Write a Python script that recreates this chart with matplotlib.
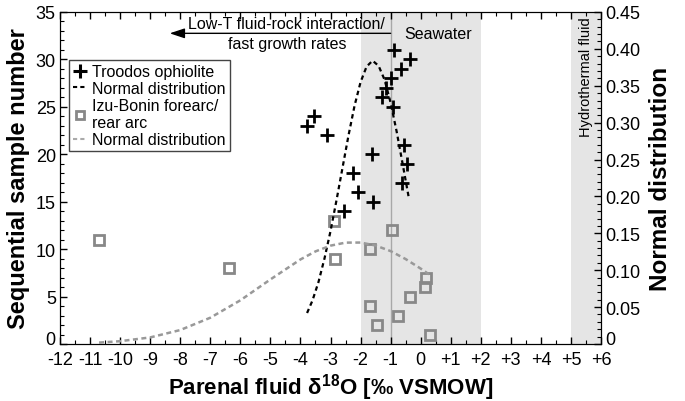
import matplotlib
matplotlib.use("Agg")
import matplotlib.pyplot as plt
import matplotlib.transforms as mtransforms
from matplotlib.lines import Line2D
from matplotlib.ticker import MultipleLocator

plt.rcParams['font.family'] = ['Liberation Sans', 'DejaVu Sans']
plt.rcParams['mathtext.fontset'] = 'custom'
plt.rcParams['mathtext.rm'] = 'Liberation Sans'
plt.rcParams['mathtext.bf'] = 'Liberation Sans:bold'

# Troodos ophiolite samples (sequential number vs fluid d18O)
troodos_seq = [14, 15, 16, 17, 18, 19, 20, 21, 22, 23, 24, 25, 26, 27, 28, 29, 30, 31]
troodos_d18o = [-2.56, -1.58, -2.08, -0.61, -2.26, -0.44, -1.61, -0.56, -3.11,
                -3.78, -3.56, -0.93, -1.28, -1.15, -1.0, -0.66, -0.37, -0.9]

# Izu-Bonin forearc / rear arc samples
izu_seq = [1, 2, 3, 4, 5, 6, 7, 8, 9, 10, 11, 12, 13]
izu_d18o = [0.31, -1.44, -0.76, -1.7, -0.36, 0.13, 0.17, -6.39, -2.86, -1.7,
            -10.69, -0.94, -2.89]

# normal distribution curves (right axis)
troodos_nd_x = [-3.78, -3.6, -3.4, -3.2, -3.0, -2.8, -2.6, -2.4, -2.2, -2.0,
                -1.8, -1.6, -1.4, -1.2, -1.0, -0.8, -0.6, -0.39]
troodos_nd_y = [0.042, 0.059, 0.084, 0.116, 0.153, 0.195, 0.239, 0.283, 0.323,
                0.355, 0.376, 0.384, 0.377, 0.358, 0.327, 0.288, 0.244, 0.197]
izu_nd_x = [-10.7, -10.0, -9.0, -8.0, -7.0, -6.0, -5.0, -4.0, -3.5, -3.0,
            -2.5, -2.0, -1.5, -1.0, -0.5, 0.0, 0.3]
izu_nd_y = [0.0019, 0.0038, 0.0089, 0.0189, 0.0356, 0.0592, 0.0875, 0.1146,
            0.1255, 0.1333, 0.1374, 0.1375, 0.1335, 0.1259, 0.1151, 0.1022, 0.0938]

xticks = list(range(-12, 7))
xticklabels = ['-12', '-11', '-10', '-9', '-8', '-7', '-6', '-5', '-4', '-3',
               '-2', '-1', '0', '+1', '+2', '+3', '+4', '+5', '+6']
yticks = [0, 5, 10, 15, 20, 25, 30, 35]
y2ticks = [0, 0.05, 0.10, 0.15, 0.20, 0.25, 0.30, 0.35, 0.40, 0.45]
y2ticklabels = ['0', '0.05', '0.10', '0.15', '0.20', '0.25', '0.30', '0.35', '0.40', '0.45']

fig = plt.figure(figsize=(6.85, 4.02), dpi=100)
ax = fig.add_axes([0.0876, 0.1418, 0.7898, 0.8259])
ax2 = ax.twinx()

# shaded fluid fields
ax.axvspan(-2, 2, color='#e5e5e5', lw=0, zorder=0)
ax.axvspan(5, 6, color='#e5e5e5', lw=0, zorder=0)
ax.axvline(-1, color='#a8a8a8', lw=1, zorder=0.5)

ax.plot(troodos_d18o, troodos_seq, ls='none', marker='+', color='k', ms=10, mew=2, zorder=3)
ax.plot(izu_d18o, izu_seq, ls='none', marker='s', mfc='none', mec='#888888', ms=6.5, mew=2, zorder=3)

ax2.plot(troodos_nd_x, troodos_nd_y, color='k', lw=1.6, ls=(0, (2, 1.6)))
ax2.plot(izu_nd_x, izu_nd_y, color='#999999', lw=1.8, ls=(0, (2, 1.4)))

ax.set_xlim(-12, 6)
ax.set_ylim(0, 35)
ax2.set_ylim(0, 0.45)

ax.set_xticks(xticks)
ax.set_xticklabels(xticklabels)
ax.xaxis.set_minor_locator(MultipleLocator(0.5))
ax.set_yticks(yticks)
ax.yaxis.set_minor_locator(MultipleLocator(1))
ax2.set_yticks(y2ticks)
ax2.set_yticklabels(y2ticklabels)
ax2.yaxis.set_minor_locator(MultipleLocator(0.01))

ax.tick_params(axis='x', which='both', direction='in', top=True, labelsize=13, pad=5)
ax.tick_params(axis='y', which='both', direction='in', right=False, labelsize=13, pad=3)
ax2.tick_params(axis='y', which='both', direction='in', labelsize=13, pad=3)
for a in (ax, ax2):
    a.tick_params(which='major', length=5, width=1)
    a.tick_params(which='minor', length=3, width=0.8)

# lift the "0" labels at the corners a little, as in the original
lift = mtransforms.ScaledTranslation(0, 5 / 72, fig.dpi_scale_trans)
for lab in (ax.get_yticklabels()[0], ax2.get_yticklabels()[0]):
    lab.set_transform(lab.get_transform() + lift)

ax.set_xlabel(r'Parenal fluid δ$^{\mathbf{18}}$O [‰ VSMOW]', fontsize=16, fontweight='bold', labelpad=2)
ax.set_ylabel('Sequential sample number', fontsize=17, fontweight='bold', labelpad=4)
ax2.set_ylabel('Normal distribution', fontsize=17.5, fontweight='bold', labelpad=6)

# annotations
ax.annotate('', xy=(-8.35, 32.75), xytext=(-1.0, 32.75),
            arrowprops=dict(arrowstyle='-|>,head_length=0.9,head_width=0.3',
                            color='k', lw=1, shrinkA=0, shrinkB=0))
ax.text(-4.45, 33.0, 'Low-T fluid-rock interaction/', ha='center', va='bottom', fontsize=11.5)
ax.text(-4.45, 31.7, 'fast growth rates', ha='center', va='center', fontsize=11.5)
ax.text(-0.55, 32.7, 'Seawater', ha='left', va='center', fontsize=11.5)
ax.text(5.5, 34.6, 'Hydrothermal fluid', ha='center', va='top', rotation=90, fontsize=10.5)

handles = [
    Line2D([], [], ls='none', marker='+', color='k', ms=10, mew=2.2),
    Line2D([], [], color='k', lw=1.5, ls=(0, (2, 1.5))),
    Line2D([], [], ls='none', marker='s', mfc='none', mec='#888888', ms=6, mew=2),
    Line2D([], [], color='#aaaaaa', lw=1.5, ls=(0, (2, 1.5))),
]
labels = ['Troodos ophiolite', 'Normal distribution', 'Izu-Bonin forearc/\nrear arc', 'Normal distribution']
leg = ax2.legend(handles, labels, loc='upper left', bbox_to_anchor=(0.0166, 0.855),
                 borderaxespad=0, fancybox=False, edgecolor='#444444', fontsize=11.5,
                 handlelength=0.9, handletextpad=0.3, labelspacing=0.12, borderpad=0.25,
                 framealpha=1)
leg.get_frame().set_linewidth(1)

fig.savefig('out.png', dpi=100)
